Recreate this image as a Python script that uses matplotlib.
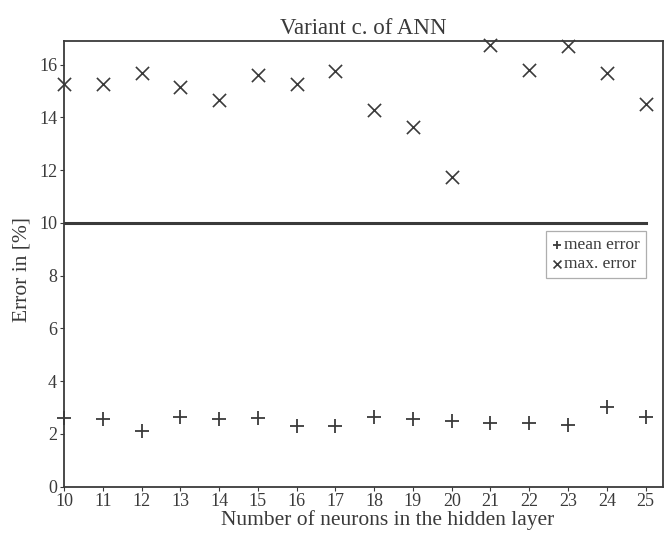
import matplotlib
matplotlib.use("Agg")
import matplotlib.pyplot as plt

neurons = [10, 11, 12, 13, 14, 15, 16, 17, 18, 19, 20, 21, 22, 23, 24, 25]
mean_error = [2.6, 2.55, 2.1, 2.65, 2.55, 2.6, 2.3, 2.3, 2.65, 2.55, 2.5, 2.4, 2.4, 2.35, 3.0, 2.65]
max_error = [15.25, 15.25, 15.7, 15.15, 14.65, 15.6, 15.25, 15.75, 14.3, 13.65, 11.75,
             16.75, 15.8, 16.7, 15.7, 14.5]
threshold = 10
yticks = [0, 2, 4, 6, 8, 10, 12, 14, 16]

plt.rcParams['font.family'] = ['Liberation Serif', 'DejaVu Serif']
col = '#3a3a3a'

fig = plt.figure(figsize=(6.69, 5.34), dpi=100)
# axes box: left 64px, right 663px, top 41px, bottom 486.5px
ax = fig.add_axes([64 / 669, (534 - 486.5) / 534, (663 - 64) / 669, (486.5 - 41) / 534])

ax.scatter(neurons, mean_error, marker='+', s=95, color=col, linewidths=1.3,
           label='mean error', clip_on=False, zorder=3)
ax.scatter(neurons, max_error, marker='x', s=90, color=col, linewidths=1.2,
           label='max. error', clip_on=False, zorder=3)
ax.plot([neurons[0], neurons[-1]], [threshold, threshold], color=col, lw=2.2)

ax.set_xlim(10, 25.45)
ax.set_ylim(0, 16.9)
ax.set_xticks(neurons)
ax.set_yticks(yticks)
ax.tick_params(axis='both', labelsize=13, colors=col, length=3, direction='out', pad=2)
ax.tick_params(top=False, right=False)
for s in ax.spines.values():
    s.set_color(col)
    s.set_linewidth(1.3)

ax.set_title('Variant c. of ANN', fontsize=16.5, color=col, pad=5)
ax.set_xlabel('Number of neurons in the hidden layer', fontsize=15.5, color=col)
ax.xaxis.set_label_coords(0.541, -0.076, transform=ax.transAxes)
ax.xaxis.label.set_va('center')
ax.set_ylabel('Error in [%]', fontsize=15.5, color=col)
ax.yaxis.set_label_coords(-0.070, 0.487, transform=ax.transAxes)
ax.yaxis.label.set_va('center')

leg = ax.legend(loc='upper right', bbox_to_anchor=(0.972, 0.573), fontsize=12.5,
                frameon=True, fancybox=False, handlelength=0.5, handletextpad=0.2,
                borderpad=0.35, labelspacing=0.15, markerscale=0.6, borderaxespad=0)
leg.get_frame().set_edgecolor('#9a9a9a')
leg.get_frame().set_linewidth(0.9)
for t in leg.get_texts():
    t.set_color(col)

fig.savefig('out.png', dpi=100)
